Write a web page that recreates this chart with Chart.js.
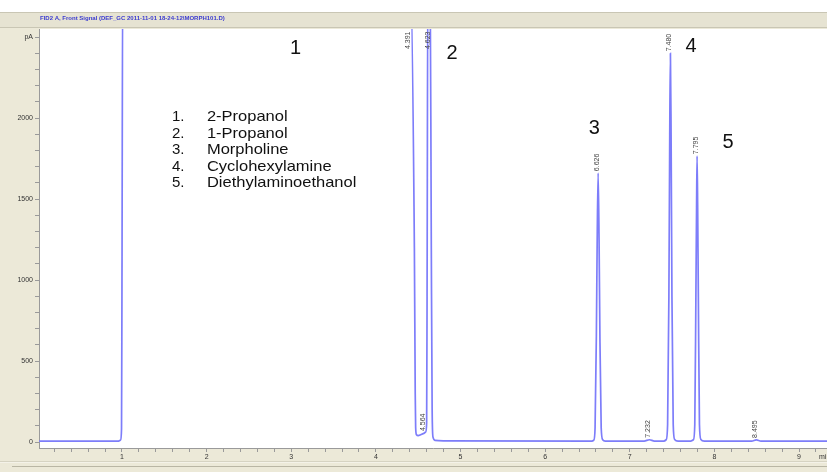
<!DOCTYPE html>
<html>
<head>
<meta charset="utf-8">
<title>FID2 A chromatogram</title>
<script src="https://cdn.jsdelivr.net/npm/chart.js@4.4.0/dist/chart.umd.min.js"></script>
<style>
html, body { margin: 0; padding: 0; background: #fff; }
#wrap { width: 827px; height: 472px; }
</style>
</head>
<body>
<div id="wrap"><canvas id="gcChart" width="827" height="472"></canvas></div>
<script>
// trace: retention time (min) and signal (pA)
// values above the top of the scale are the clipped (off-scale) parts
const traceTimes = [
    0.02, 0.90, 0.96, 0.985, 0.995, 1.00, 1.01, 4.40, 4.455, 4.465, 4.47, 4.48,
    4.50, 4.53, 4.56, 4.59, 4.60, 4.605, 4.615, 4.64, 4.655, 4.665, 4.675, 4.70, 4.80,
    6.55, 6.575, 6.59, 6.605, 6.615, 6.626, 6.637, 6.647, 6.662, 6.68, 6.71,
    7.17, 7.232, 7.29,
    7.40, 7.43, 7.447, 7.462, 7.472, 7.480, 7.488, 7.498, 7.513, 7.53, 7.57,
    7.72, 7.752, 7.768, 7.781, 7.789, 7.795, 7.802, 7.81, 7.823, 7.84, 7.88,
    8.44, 8.495, 8.55, 9.33
];
const traceSignal = [
    5, 5, 6, 12, 80, 900, 3000, 3000, 1200, 300, 90, 45,
    40, 45, 52, 62, 120, 900, 3000, 3000, 1200, 200, 30, 10, 7,
    6, 12, 90, 650, 1250, 1660, 1250, 650, 90, 14, 6,
    6, 14, 6,
    6, 14, 110, 900, 1900, 2400, 1900, 900, 110, 16, 6,
    6, 14, 110, 900, 1450, 1765, 1450, 900, 110, 16, 6,
    6, 13, 6, 6
];

// integrated peaks: retention time labels and apex height (pA, capped values are off-scale)
const peakLabels = ['4.391', '4.564', '4.623', '6.626', '7.232', '7.480', '7.795', '8.495'];
const peakTimes = [4.391, 4.564, 4.623, 6.626, 7.232, 7.480, 7.795, 8.495];
const peakApex = [3000, 55, 3000, 1660, 14, 2400, 1765, 13];

// compound list shown on the plot
const compoundNames = ['2-Propanol', '1-Propanol', 'Morpholine', 'Cyclohexylamine', 'Diethylaminoethanol'];

const signalTitle = 'FID2 A, Front Signal (DEF_GC 2011-11-01 18-24-12\\MORPH101.D)';
const yUnit = 'pA';
const xUnit = 'min';

const FONT = '"Liberation Sans", Arial, sans-serif';

// window background, title strip, white plot area
const backdrop = {
    id: 'backdrop',
    beforeDraw(chart) {
        const { ctx, chartArea: a, width, height } = chart;
        ctx.save();
        ctx.fillStyle = '#ece9d8';
        ctx.fillRect(0, 0, width, height);
        ctx.fillStyle = '#ffffff';
        ctx.fillRect(0, 0, width, 12);
        ctx.fillStyle = '#e6e3d2';
        ctx.fillRect(0, 12, width, 15);
        ctx.fillStyle = '#c9c6b4';
        ctx.fillRect(0, 12, width, 1);
        ctx.fillRect(0, 27, width, 1);
        ctx.fillStyle = '#ffffff';
        ctx.fillRect(a.left, a.top, a.right - a.left, a.bottom - a.top);
        // status strip at the bottom
        ctx.fillStyle = '#d6d3c2';
        ctx.fillRect(0, 461, width, 1);
        ctx.fillStyle = '#f4f2e8';
        ctx.fillRect(0, 462, width, 1);
        ctx.fillStyle = '#b9b6a4';
        ctx.fillRect(12, 466, width, 1);

        ctx.font = 'bold 6px ' + FONT;
        ctx.fillStyle = '#3a3ad0';
        ctx.textBaseline = 'middle';
        ctx.textAlign = 'left';
        ctx.fillText(signalTitle, 40, 18.5);
        ctx.restore();
    }
};

// retention labels, peak numbers and the compound list
const notes = {
    id: 'notes',
    afterDatasetsDraw(chart) {
        const { ctx, chartArea: a } = chart;
        const xs = chart.scales.x, ys = chart.scales.y;
        ctx.save();

        ctx.font = '7px ' + FONT;
        ctx.fillStyle = '#444';
        ctx.textBaseline = 'middle';
        ctx.textAlign = 'left';
        peakLabels.forEach((lab, i) => {
            const px = xs.getPixelForValue(peakTimes[i]);
            let py = ys.getPixelForValue(peakApex[i]) - 2;
            if (py < a.top + 18) py = a.top + 20;
            ctx.save();
            ctx.translate(px - 1, py);
            ctx.rotate(-Math.PI / 2);
            ctx.fillText(lab, 0, 0);
            ctx.restore();
        });

        // peak numbers
        const numberSpots = [[3.05, 2432], [4.90, 2400], [6.58, 1938], [7.725, 2444], [8.16, 1852]];
        ctx.font = '20px ' + FONT;
        ctx.fillStyle = '#111';
        ctx.textAlign = 'center';
        numberSpots.forEach((p, i) => {
            ctx.fillText(String(i + 1), xs.getPixelForValue(p[0]), ys.getPixelForValue(p[1]));
        });

        // compound list
        ctx.font = '15px ' + FONT;
        ctx.textAlign = 'left';
        const lx = xs.getPixelForValue(1.59);
        const ly = ys.getPixelForValue(2006);
        compoundNames.forEach((name, i) => {
            const y = ly + i * 16.5;
            ctx.fillText((i + 1) + '.', lx, y);
            ctx.save();
            ctx.translate(lx + 35, y);
            ctx.scale(1.1, 1);
            ctx.fillText(name, 0, 0);
            ctx.restore();
        });

        // axis units
        ctx.font = '7px ' + FONT;
        ctx.fillStyle = '#333';
        ctx.textAlign = 'left';
        ctx.fillText(xUnit, a.right - 8, a.bottom + 9);
        ctx.restore();
    }
};

const points = traceTimes.map((t, i) => ({ x: t, y: traceSignal[i] }));

function stepTicks(from, to, step) {
    const out = [];
    for (let v = from; v <= to + 1e-9; v += step) out.push({ value: Math.round(v * 100) / 100 });
    return out;
}

new Chart(document.getElementById('gcChart'), {
    type: 'line',
    data: {
        datasets: [{
            data: points,
            borderColor: '#7d7dfa',
            borderWidth: 1.7,
            pointRadius: 0,
            cubicInterpolationMode: 'monotone',
            fill: false
        }]
    },
    options: {
        responsive: false,
        animation: false,
        events: [],
        layout: { padding: { top: 29, left: 0, right: 0, bottom: 0 } },
        plugins: { legend: { display: false }, tooltip: { enabled: false } },
        scales: {
            x: {
                type: 'linear',
                min: 0.02,
                max: 9.33,
                afterBuildTicks(scale) { scale.ticks = stepTicks(0.2, 9.2, 0.2); },
                afterFit(scale) { scale.height = 24; },
                border: { color: '#9a9a9a', width: 1 },
                grid: { drawOnChartArea: false, tickLength: 4, color: '#9a9a9a' },
                ticks: {
                    autoSkip: false,
                    maxRotation: 0,
                    padding: 1,
                    color: '#333',
                    font: { family: FONT, size: 7 },
                    callback: v => (Math.abs(v - Math.round(v)) < 1e-6 ? String(Math.round(v)) : '')
                }
            },
            y: {
                min: -37,
                max: 2550,
                afterBuildTicks(scale) { scale.ticks = stepTicks(0, 2500, 100); },
                afterFit(scale) { scale.width = 39; },
                border: { color: '#9a9a9a', width: 1 },
                grid: { drawOnChartArea: false, tickLength: 4, color: '#9a9a9a' },
                ticks: {
                    autoSkip: false,
                    padding: 2,
                    color: '#333',
                    font: { family: FONT, size: 7 },
                    callback: v => (v === 2500 ? yUnit : (v % 500 === 0 ? String(v) : ''))
                }
            }
        }
    },
    plugins: [backdrop, notes]
});
</script>
</body>
</html>
